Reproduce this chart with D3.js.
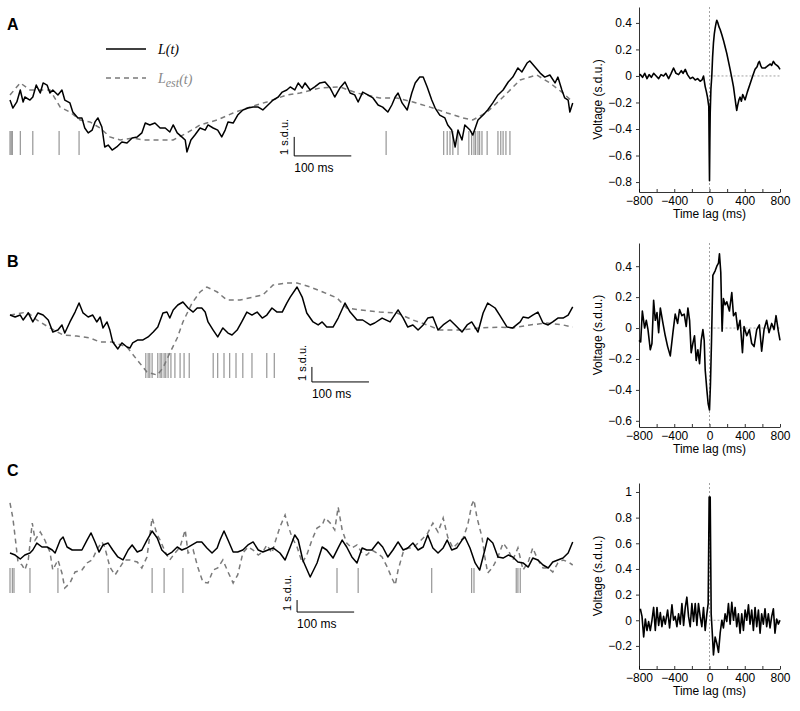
<!DOCTYPE html>
<html>
<head>
<meta charset="utf-8">
<title>L(t) and spike-triggered averages</title>
<script src="https://d3js.org/d3.v7.min.js"></script>
<style>
  body { margin: 0; background: #fff; }
  svg { font-family: "Liberation Sans", Arial, Helvetica, sans-serif; }
  .tick text { font-size: 12px; }
  .axis path, .axis line { stroke: #000; stroke-width: 0.8; }
</style>
</head>
<body>
<svg id="fig" width="800" height="711"></svg>
<script>
// ---- left traces: [time (ms), value (s.d.u.)] ----
const aL = [[0,0.26],[5,-0.16],[12,0.16],[18,0.79],[23,0.16],[26,0.42],[35,0.26],[40,0.42],[46,1.05],[53,0.63],[58,1.16],[65,1.05],[70,0.63],[75,0.79],[84,0.53],[91,0.79],[96,0.26],[105,0.11],[110,-0.37],[119,-0.68],[126,-0.68],[131,-1.21],[137,-1.47],[144,-1.32],[149,-0.89],[154,-0.68],[161,-1.16],[166,-2.21],[172,-2.11],[179,-2.37],[187,-2.21],[196,-1.95],[205,-2.0],[214,-1.74],[223,-1.68],[231,-1.47],[237,-0.95],[245,-1.05],[254,-0.95],[263,-1.21],[272,-1.21],[280,-1.42],[286,-1.05],[293,-1.47],[301,-1.68],[307,-1.84],[310,-2.47],[317,-1.84],[324,-1.58],[333,-1.21],[342,-1.32],[347,-1.05],[356,-1.21],[364,-1.32],[371,-1.68],[377,-1.32],[382,-0.89],[391,-0.95],[399,-0.53],[408,-0.26],[417,-0.16],[426,-0.11],[435,-0.11],[443,-0.26],[452,0],[461,0.26],[470,0.42],[477,0.68],[485,0.79],[491,0.95],[499,0.79],[505,1.16],[512,0.89],[517,1.16],[526,0.79],[534,0.95],[543,1.16],[552,1.21],[561,0.89],[569,0.42],[578,0.89],[587,1.21],[596,0.63],[604,0.53],[610,0.16],[618,0.68],[627,0.53],[636,0.37],[645,0],[653,-0.11],[662,-0.37],[669,0],[675,0.42],[680,0.63],[687,0.11],[696,-0.26],[704,0.63],[710,1.16],[718,1.47],[724,1.47],[731,0.95],[739,0.26],[745,-0.16],[753,-0.53],[762,-0.68],[767,-1.05],[774,-1.32],[780,-2.21],[785,-1.32],[792,-1.84],[797,-1.05],[806,-1.32],[811,-1.58],[820,-0.79],[829,-0.53],[837,-0.26],[846,0.11],[855,0.53],[864,0.79],[873,1.21],[881,1.47],[890,1.95],[897,1.74],[906,2.21],[911,2.32],[920,2.0],[929,1.68],[937,1.47],[946,1.58],[955,1.16],[960,1.47],[967,0.79],[972,0.37],[978,0.26],[981,-0.37],[986,0.11]];
const aEst = [[0,0.53],[18,1.16],[35,0.79],[70,0.79],[88,-0.11],[105,-0.37],[123,-0.79],[140,-0.89],[158,-1.21],[175,-1.68],[193,-1.84],[215,-1.74],[233,-1.84],[258,-1.84],[286,-1.84],[310,-1.47],[333,-1.05],[363,-0.79],[391,-0.42],[420,-0.11],[450,0.16],[485,0.53],[508,0.63],[543,0.89],[578,0.95],[608,0.63],[648,0.37],[678,0.37],[706,0.16],[736,-0.11],[766,-0.42],[794,-0.68],[811,-0.79],[836,-0.37],[864,0.42],[894,1.32],[923,1.58],[946,1.16],[969,0.63],[986,0.16]];
const aSpikes = [0,2,4,18,40,86,121,659,760,766,771,776,785,804,809,813,816,820,823,827,836,855,860,864,869,876];

const bL = [[0,0.33],[9,0.2],[18,0.33],[23,0],[32,0.47],[40,-0.13],[49,0.47],[58,0.33],[67,0],[75,-0.8],[84,-0.67],[91,-0.33],[96,-0.87],[105,-0.13],[114,0.53],[121,1.13],[128,0.47],[137,0.2],[145,0.33],[152,-0.13],[158,0.2],[163,-0.53],[170,-0.13],[175,-0.67],[180,-1.47],[189,-1.93],[196,-1.53],[205,-1.8],[210,-1.87],[215,-1.53],[224,-1.33],[233,-1.33],[242,-1.13],[251,-0.8],[259,-0.47],[268,0.47],[275,0.53],[280,0.13],[286,0.67],[294,1.0],[303,1.2],[312,0.8],[321,0.53],[328,0.8],[336,0.8],[342,0.53],[347,-0.13],[356,-0.67],[364,-1.13],[373,-0.53],[382,-0.87],[389,-1.0],[398,-0.67],[406,-0.13],[415,0.53],[424,0.33],[433,0.53],[442,0.13],[450,0.33],[459,0.8],[468,0.53],[477,0.53],[485,1.13],[491,1.53],[503,2.2],[512,1.53],[520,0.47],[531,-0.13],[540,-0.33],[547,-0.13],[555,-0.47],[566,-0.47],[575,0.13],[587,1.13],[596,0.53],[608,0],[618,0],[631,-0.33],[639,-0.2],[652,0.13],[666,-0.13],[680,0.67],[689,0.13],[697,-0.47],[706,-0.33],[715,-0.67],[724,-0.33],[732,0.13],[741,0.2],[750,-0.67],[759,-0.33],[771,0],[780,-0.33],[792,-0.8],[801,-0.33],[809,-0.13],[820,-0.8],[829,0.47],[837,1.13],[850,0.8],[858,0.33],[871,-0.47],[881,-0.53],[894,-0.13],[899,0.2],[908,0.13],[916,0.33],[925,0.53],[934,-0.2],[943,-0.33],[951,-0.13],[960,0.13],[969,0.13],[978,0.33],[986,0.87]];
const bEst = [[0,0.33],[30,0.53],[47,0],[70,-0.53],[93,-1.0],[117,-1.07],[140,-1.2],[158,-1.47],[180,-1.47],[205,-1.8],[223,-2.67],[240,-3.47],[258,-3.67],[268,-3.2],[280,-2.2],[293,-1.2],[303,-0.13],[319,1.13],[333,1.87],[345,2.2],[363,1.87],[380,1.33],[403,1.33],[426,1.53],[443,1.67],[461,2.33],[485,2.47],[503,2.47],[526,2.2],[548,1.87],[573,1.47],[590,0.8],[613,0.67],[648,0.53],[678,0.47],[706,0],[731,-0.33],[753,-0.67],[788,-0.67],[823,-0.53],[858,-0.47],[881,-0.53],[911,-0.33],[941,-0.2],[969,-0.33],[986,-0.47]];
const bSpikes = [238,242,245,249,259,263,266,270,273,277,282,289,298,305,314,356,364,375,385,396,408,424,450,463];

const cL = [[0,-0.25],[9,-0.42],[18,-0.75],[26,-0.42],[35,-0.25],[40,0],[47,0.58],[56,0.25],[65,0.25],[74,0],[79,-0.25],[88,0.83],[93,1.08],[100,0.25],[109,0],[117,0],[126,0],[135,0.83],[142,1.42],[149,0.67],[156,-0.17],[163,0.42],[172,0.58],[180,0],[189,-0.58],[198,-0.83],[207,0],[214,0.42],[223,-0.17],[231,0],[240,0.83],[249,1.58],[258,1.0],[266,0],[275,-0.42],[284,-0.17],[293,0.25],[301,0],[310,0.17],[319,0.42],[328,0.67],[336,0.67],[345,0.17],[354,-0.25],[363,0.17],[368,0.83],[375,1.58],[382,0.83],[391,-0.17],[399,-0.17],[408,0],[417,0.42],[426,0.67],[435,0],[443,-0.17],[452,0],[461,0.17],[473,-0.25],[482,-0.83],[491,0.25],[499,1.25],[505,0.83],[513,-0.83],[526,-2.25],[538,-1.08],[547,0.25],[555,0],[566,-0.67],[575,0.17],[582,0.83],[590,0.25],[599,-0.58],[608,-1.08],[617,0.17],[625,0],[634,0],[645,0.67],[653,0.25],[662,-0.58],[671,0],[680,0.67],[689,0],[697,0.17],[706,0.58],[715,0],[724,0.25],[732,1.25],[741,0.17],[750,-0.25],[759,0.17],[766,0.83],[774,0],[783,0.17],[792,0.83],[797,1.08],[806,0.17],[815,-1.08],[823,-1.67],[832,0],[837,1.0],[846,0.58],[855,-0.58],[864,-0.67],[873,-0.42],[881,-0.58],[890,-1.0],[899,-1.08],[908,-1.42],[916,-0.67],[925,-0.83],[934,-1.25],[943,-1.5],[951,-1.0],[960,-0.83],[969,-0.67],[978,-0.25],[986,0.67]];
const cEst = [[0,3.92],[5,2.67],[9,1.08],[14,-1.0],[21,-1.25],[26,-1.67],[32,-0.83],[39,2.25],[44,0.83],[53,1.5],[61,0.83],[70,-0.17],[75,-1.67],[84,-0.83],[91,-1.92],[96,-3.17],[105,-2.75],[114,-1.83],[126,-1.67],[135,-1.08],[144,-0.83],[152,0],[161,0.67],[166,0.25],[175,-1.42],[184,-2.08],[193,-1.42],[201,-0.83],[210,-0.83],[223,-1.0],[231,-1.5],[240,-0.58],[249,2.67],[258,1.25],[263,0.83],[272,-0.17],[280,-0.83],[289,-0.25],[298,0.25],[307,1.67],[312,-0.25],[321,0],[329,-1.42],[338,-2.67],[347,-2.75],[356,-1.67],[364,-1.5],[373,-0.83],[382,-1.83],[391,-2.75],[399,-2.08],[408,-0.25],[417,0.25],[426,0],[435,-0.42],[443,-0.17],[450,0.42],[459,-0.25],[464,0.58],[473,1.92],[482,2.92],[487,2.08],[494,1.08],[503,0.25],[512,-1.08],[520,-0.42],[529,0.83],[538,1.83],[547,2.08],[552,2.67],[561,2.25],[569,1.67],[575,3.58],[582,1.67],[590,0.58],[599,0.17],[608,0.42],[617,-0.25],[625,-0.42],[634,0],[643,-0.25],[652,-0.58],[661,-1.42],[669,-2.33],[675,-2.92],[680,-1.67],[689,-0.17],[697,0.17],[706,0.17],[715,0.58],[724,1.0],[732,1.42],[741,2.25],[750,1.5],[759,2.67],[767,1.08],[776,0.17],[785,0.58],[794,1.0],[802,2.08],[809,3.75],[813,4.17],[818,2.75],[827,1.08],[832,-0.58],[837,-1.92],[846,-1.42],[855,-0.58],[864,0.58],[873,0],[881,-0.83],[890,0.17],[899,-1.67],[908,-1.0],[916,0.17],[925,-0.83],[934,-1.5],[943,-1.5],[951,-1.83],[960,-1.08],[969,-0.83],[978,-1.0],[986,-1.25]];
const cSpikes = [0,4,7,35,84,172,249,270,303,573,610,739,809,813,887,890,894];

// ---- right panels: [time lag (ms), voltage (s.d.u.)] ----
const staA = [[-800,0.01],[-785,0.01],[-760,-0.01],[-735,0.02],[-709,-0.02],[-685,0.01],[-660,-0.01],[-634,0.02],[-605,0],[-577,-0.02],[-550,0.01],[-521,0],[-495,0.02],[-464,-0.02],[-435,0.02],[-408,0.06],[-380,0.02],[-351,0.01],[-320,0.04],[-300,0.02],[-275,0.05],[-250,0.01],[-219,-0.02],[-190,-0.01],[-162,-0.03],[-135,-0.02],[-106,-0.04],[-85,-0.03],[-68,0],[-49,-0.08],[-35,-0.12],[-23,-0.16],[-8,-0.23],[-3,-0.6],[0,-0.79],[4,-0.5],[8,-0.28],[16,-0.1],[26,0],[35,0.14],[45,0.25],[55,0.32],[64,0.36],[75,0.4],[83,0.42],[95,0.4],[108,0.37],[121,0.35],[140,0.31],[158,0.27],[177,0.22],[196,0.17],[215,0.11],[234,0.05],[252,-0.01],[272,-0.08],[290,-0.17],[300,-0.22],[309,-0.26],[320,-0.22],[334,-0.18],[347,-0.16],[362,-0.19],[377,-0.14],[390,-0.16],[404,-0.18],[430,-0.12],[460,-0.06],[490,0],[517,0.05],[540,0.07],[555,0.1],[566,0.11],[580,0.08],[595,0.06],[611,0.06],[630,0.06],[650,0.07],[668,0.08],[690,0.09],[705,0.08],[725,0.11],[745,0.09],[765,0.08],[781,0.07],[800,0.05]];
const staB = [[-800,-0.08],[-781,-0.09],[-762,0.11],[-736,0],[-717,0.05],[-698,-0.01],[-672,-0.14],[-653,-0.1],[-634,0.18],[-615,0.05],[-596,0.1],[-577,-0.03],[-558,0.13],[-528,0.03],[-502,-0.05],[-475,-0.12],[-445,-0.18],[-415,-0.03],[-389,0.09],[-362,0.03],[-340,0.12],[-313,0.08],[-287,0.09],[-264,0.01],[-245,0.13],[-226,0.05],[-208,-0.16],[-189,-0.1],[-170,-0.05],[-151,-0.21],[-132,-0.14],[-113,-0.23],[-94,-0.08],[-75,-0.01],[-60,-0.08],[-49,-0.27],[-30,-0.4],[-15,-0.49],[0,-0.53],[11,-0.36],[23,-0.08],[38,0.34],[64,0.37],[83,0.4],[102,0.42],[113,0.48],[128,0.36],[143,-0.02],[158,0.19],[177,0.15],[196,0.17],[226,0.11],[253,0.23],[272,0.08],[298,0.1],[321,-0.01],[347,0.05],[374,-0.16],[392,0.01],[423,-0.05],[453,-0.01],[479,-0.1],[506,-0.12],[536,-0.01],[566,0.02],[592,-0.15],[619,-0.01],[649,0.05],[675,-0.03],[706,0.03],[732,-0.01],[755,0.08],[781,-0.02],[800,-0.08]];
const staC = [[-785,0.09],[-766,0.03],[-747,-0.13],[-728,0.01],[-709,-0.08],[-691,-0.01],[-672,-0.08],[-653,0],[-634,0.1],[-615,-0.08],[-596,0.1],[-577,-0.04],[-558,0.06],[-540,-0.05],[-521,0.03],[-502,-0.03],[-475,0.08],[-453,-0.06],[-426,0.12],[-408,0],[-389,0.03],[-370,-0.05],[-351,0.05],[-332,-0.03],[-313,0.13],[-294,-0.04],[-275,0.1],[-257,0.18],[-238,0.03],[-219,-0.05],[-200,0.13],[-181,-0.01],[-162,0.13],[-143,-0.04],[-125,0.13],[-106,0.03],[-87,-0.05],[-68,0.1],[-49,-0.08],[-30,0.05],[-15,0.13],[-4,0.96],[8,0.96],[19,0.05],[30,-0.08],[45,-0.27],[64,-0.13],[83,-0.18],[102,-0.25],[121,-0.1],[140,0],[158,-0.06],[177,0.05],[196,-0.01],[215,0.13],[234,-0.03],[253,0.14],[272,0],[291,0.1],[309,-0.05],[328,0.05],[347,-0.1],[366,0.05],[385,-0.08],[404,0.08],[423,0],[442,0.12],[460,-0.03],[479,0.08],[498,-0.08],[517,0.1],[536,-0.05],[555,0.08],[574,-0.1],[592,0.05],[611,-0.03],[630,0.09],[649,-0.05],[668,0.05],[687,-0.06],[706,0.03],[725,0.09],[743,-0.1],[762,0.01],[781,-0.03],[800,0]];

const lagTicks = [-800,-600,-400,-200,0,200,400,600,800];
const voltTicksA = [-0.8,-0.6,-0.4,-0.2,0,0.2,0.4];
const voltTicksB = [-0.6,-0.4,-0.2,0,0.2,0.4];
const voltTicksC = [-0.2,0,0.2,0.4,0.6,0.8,1];

const svg = d3.select('#fig');

// shared time scale for the left traces
const xL = d3.scaleLinear().domain([0, 990]).range([10, 575]);
const xR = d3.scaleLinear().domain([-800, 800]).range([639, 780]);

const panels = [
  {letter: 'A', letterY: 30, L: aL, est: aEst, spikes: aSpikes,
   y: d3.scaleLinear().domain([0, 1]).range([105, 86]), raster: [131, 155], barT: 498, barV: -2.68,
   sta: staA, yR: d3.scaleLinear().domain([-0.875, 0.52]).range([192, 7]), ticks: voltTicksA},
  {letter: 'B', letterY: 267, L: bL, est: bEst, spikes: bSpikes,
   y: d3.scaleLinear().domain([0, 1]).range([320, 305]), raster: [353, 378], barT: 529, barV: -4.13,
   sta: staB, yR: d3.scaleLinear().domain([-0.64, 0.55]).range([427, 243]), ticks: voltTicksB},
  {letter: 'C', letterY: 476, L: cL, est: cEst, spikes: cSpikes,
   y: d3.scaleLinear().domain([0, 1]).range([550, 538]), raster: [568, 593], barT: 503, barV: -5.17,
   sta: staC, yR: d3.scaleLinear().domain([-0.38, 1.07]).range([669, 483]), ticks: voltTicksC}
];

const fmtV = v => v === 0 ? '0' : d3.format('.1~f')(v);

panels.forEach(p => {
  svg.append('text')
    .attr('x', 7).attr('y', p.letterY)
    .attr('font-size', 16).attr('font-weight', 'bold')
    .text(p.letter);

  // spikes
  svg.append('g').selectAll('line')
    .data(p.spikes)
    .join('line')
    .attr('x1', d => xL(d)).attr('x2', d => xL(d))
    .attr('y1', p.raster[0]).attr('y2', p.raster[1])
    .attr('stroke', '#808080').attr('stroke-width', 1);

  const line = d3.line().x(d => xL(d[0])).y(d => p.y(d[1]));

  svg.append('path').datum(p.est)
    .attr('d', line)
    .attr('fill', 'none').attr('stroke', '#7a7a7a')
    .attr('stroke-width', 1.5).attr('stroke-dasharray', '5,4');

  svg.append('path').datum(p.L)
    .attr('d', line)
    .attr('fill', 'none').attr('stroke', '#000')
    .attr('stroke-width', 1.5).attr('stroke-linejoin', 'round');

  // scale bar: 100 ms by 1 s.d.u.
  const bx0 = xL(p.barT), bx1 = xL(p.barT + 100);
  const by0 = p.y(p.barV), by1 = p.y(p.barV + 1);
  svg.append('path')
    .attr('d', `M${bx0},${by1}V${by0}H${bx1}`)
    .attr('fill', 'none').attr('stroke', '#000').attr('stroke-width', 1);
  svg.append('text')
    .attr('transform', `translate(${bx0 - 6},${by0 - 1}) rotate(-90)`)
    .attr('font-size', 11).text('1 s.d.u.');
  svg.append('text')
    .attr('x', bx0).attr('y', by0 + 16)
    .attr('font-size', 12).text('100 ms');

  // right panel
  const yR = p.yR;
  const [yBot, yTop] = yR.range();
  svg.append('line')
    .attr('x1', xR(0)).attr('x2', xR(0)).attr('y1', yTop).attr('y2', yBot)
    .attr('stroke', '#999').attr('stroke-width', 0.9).attr('stroke-dasharray', '2,2');
  svg.append('line')
    .attr('x1', xR(0)).attr('x2', xR(800)).attr('y1', yR(0)).attr('y2', yR(0))
    .attr('stroke', '#999').attr('stroke-width', 0.9).attr('stroke-dasharray', '2,2');

  svg.append('g').attr('class', 'axis')
    .attr('transform', `translate(${xR(-800)},0)`)
    .call(d3.axisLeft(yR).tickValues(p.ticks).tickFormat(fmtV).tickSize(3).tickPadding(4).tickSizeOuter(0));
  svg.append('g').attr('class', 'axis')
    .attr('transform', `translate(0,${yBot})`)
    .call(d3.axisBottom(xR).tickValues(lagTicks)
      .tickFormat(d => d % 400 === 0 ? d3.format('d')(d) : '')
      .tickSize(-3).tickPadding(4).tickSizeOuter(0));

  svg.append('path').datum(p.sta)
    .attr('d', d3.line().x(d => xR(d[0])).y(d => yR(d[1])))
    .attr('fill', 'none').attr('stroke', '#000')
    .attr('stroke-width', 1.6).attr('stroke-linejoin', 'round');

  svg.append('text')
    .attr('transform', `translate(602,${(yTop + yBot) / 2}) rotate(-90)`)
    .attr('text-anchor', 'middle').attr('font-size', 12)
    .text('Voltage (s.d.u.)');
  svg.append('text')
    .attr('x', xR(0)).attr('y', yBot + 26)
    .attr('text-anchor', 'middle').attr('font-size', 12)
    .text('Time lag (ms)');
});

// legend
const leg = svg.append('g').attr('font-family', '"Liberation Serif", "Times New Roman", serif')
  .attr('font-style', 'italic').attr('font-size', 14);
leg.append('line').attr('x1', 106).attr('x2', 146).attr('y1', 49).attr('y2', 49)
  .attr('stroke', '#000').attr('stroke-width', 1.4);
leg.append('text').attr('x', 158).attr('y', 54).text('L(t)');
leg.append('line').attr('x1', 106).attr('x2', 146).attr('y1', 78).attr('y2', 78)
  .attr('stroke', '#7a7a7a').attr('stroke-width', 1.4).attr('stroke-dasharray', '5,4');
const est = leg.append('text').attr('x', 158).attr('y', 83).attr('fill', '#888');
est.append('tspan').text('L');
est.append('tspan').attr('dy', 4).attr('font-size', 12).text('est');
est.append('tspan').attr('dy', -3).text('(t)');
</script>
</body>
</html>
